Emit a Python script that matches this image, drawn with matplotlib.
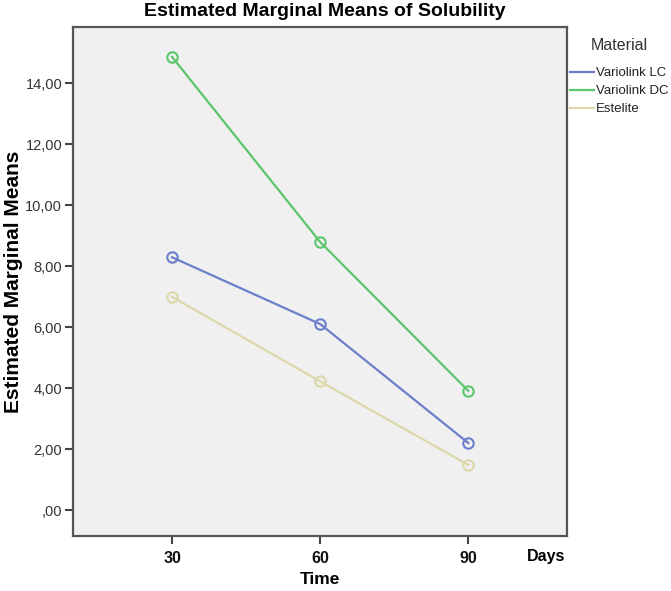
import matplotlib
matplotlib.use("Agg")
import matplotlib.pyplot as plt
from matplotlib.lines import Line2D

plt.rcParams['font.family'] = ['Liberation Sans', 'DejaVu Sans']

days = [30, 60, 90]
materials = ["Variolink LC", "Variolink DC", "Estelite"]
variolink_lc = [8.30, 6.11, 2.21]
variolink_dc = [14.87, 8.80, 3.92]
estelite = [7.00, 4.23, 1.49]
series = [variolink_lc, variolink_dc, estelite]
colors = ["#6b7fcb", "#5cc66c", "#dcd8aa"]
ytick_vals = [0, 2, 4, 6, 8, 10, 12, 14]
ytick_labels = [",00", "2,00", "4,00", "6,00", "8,00", "10,00", "12,00", "14,00"]

fig = plt.figure(figsize=(6.71, 5.91), dpi=100)
ax = fig.add_axes([73.3/671, 55/591, (567-73.3)/671, (536-27.3)/591])
ax.set_facecolor("#f0f0f0")

handles = []
for vals, c, name in zip(series, colors, materials):
    ax.plot(days, vals, color=c, lw=1.6, marker='o', markersize=7.5,
            markerfacecolor='none', markeredgecolor=c, markeredgewidth=1.5)
    handles.append(Line2D([0], [0], color=c, lw=1.6))

ax.set_xlim(10, 110)
ax.set_ylim(-0.84, 15.84)
ax.set_xticks(days)
ax.set_xticklabels([str(d) for d in days], fontsize=11.5, fontweight='bold', color='#111111')
ax.set_yticks(ytick_vals)
ax.set_yticklabels(ytick_labels, fontsize=10.5, color='#333333')
ax.tick_params(axis='both', direction='out', length=6, width=1.5, color='#444444')
ax.tick_params(axis='x', pad=5)
ax.tick_params(axis='y', pad=2)
for s in ax.spines.values():
    s.set_color('#555555')
    s.set_linewidth(1.6)

fig.text(325/671, 1 - 12/591, "Estimated Marginal Means of Solubility",
         ha='center', va='center', fontsize=14, fontweight='bold')
fig.text(14/671, 1 - 282/591, "Estimated Marginal Means", rotation=90,
         ha='center', va='center', fontsize=15, fontweight='bold')
fig.text(320/671, 1 - 580/591, "Time", ha='center', va='center',
         fontsize=12.5, fontweight='bold')
fig.text(546/671, 1 - 557/591, "Days", ha='center', va='center',
         fontsize=11.5, fontweight='bold')

leg = fig.legend(handles, materials, title="Material", loc='upper left',
                 bbox_to_anchor=(570/671, 1 - 38/591), frameon=False,
                 fontsize=9.5, title_fontsize=11.5, handlelength=1.8,
                 handletextpad=0.15, labelspacing=0.45, borderpad=0,
                 borderaxespad=0)
leg._legend_box.sep = 10
leg.get_title().set_color('#333333')
for t in leg.get_texts():
    t.set_color('#222222')

fig.savefig("out.png", dpi=100)
